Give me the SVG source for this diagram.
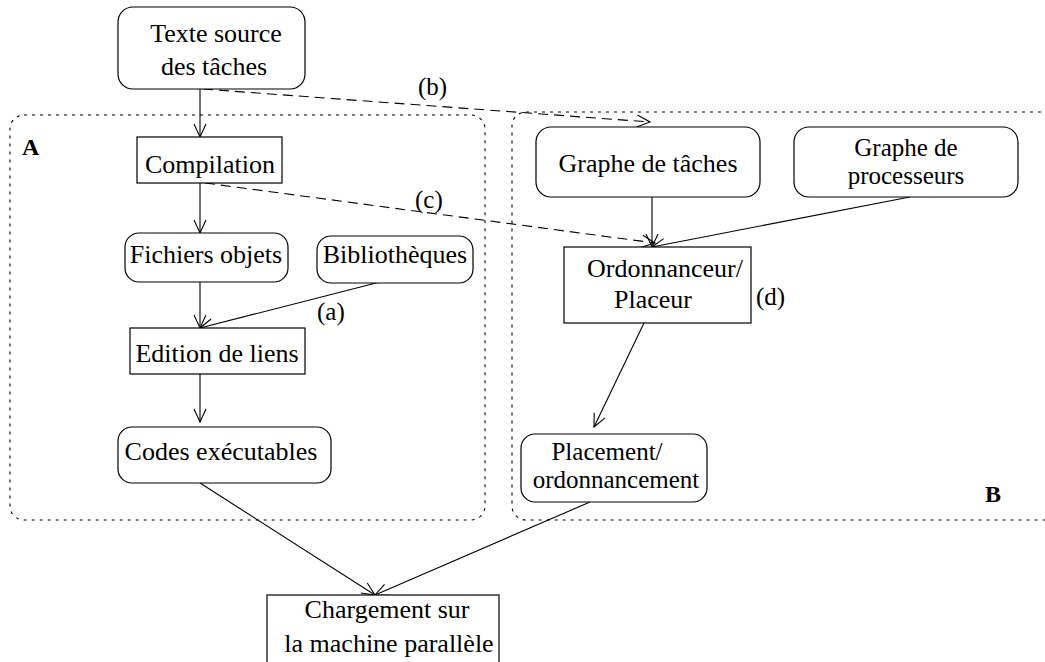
<svg xmlns="http://www.w3.org/2000/svg" width="1045" height="662" viewBox="0 0 1045 662">
<defs>
<style>
.n{fill:#fff;stroke:#000;stroke-width:1.2}
.t{font-size:26px;fill:#000;text-anchor:middle}
.s{font-size:25px}
.l{font-size:25px;fill:#000}
.b{font-size:24px;font-weight:bold;fill:#000}
.e{fill:none;stroke:#000;stroke-width:1.1}
.d{stroke-dasharray:10 6}
.box{fill:none;stroke:#000;stroke-width:1.1;stroke-dasharray:3 5}
</style>
<marker id="ah" markerUnits="userSpaceOnUse" markerWidth="16" markerHeight="14" refX="13" refY="6" orient="auto" overflow="visible">
<path d="M0,0 L13,6 L0,12" fill="none" stroke="#000" stroke-width="1.1"/>
</marker>
</defs>
<rect width="1045" height="662" fill="#fff"/>
<g font-family="Liberation Serif, DejaVu Serif, serif">
<g id="groupA">
<rect class="box" x="10" y="115" width="475" height="405" rx="14"/>
<text class="b" x="22" y="155">A</text>
</g>
<g id="groupB">
<rect class="box" x="512" y="112" width="560" height="408" rx="14"/>
<text class="b" x="985" y="502">B</text>
</g>
<g id="connectors">
<path class="e" d="M200,89 L200,137" marker-end="url(#ah)"/>
<path class="e d" d="M203,89 L650,122" marker-end="url(#ah)"/>
<path class="e d" d="M205,183 L655,243" marker-end="url(#ah)"/>
<path class="e" d="M200,183 L200,233" marker-end="url(#ah)"/>
<path class="e" d="M200,282 L200,328" marker-end="url(#ah)"/>
<path class="e" d="M380,282 L200,328" marker-end="url(#ah)"/>
<path class="e" d="M200,374 L200,422" marker-end="url(#ah)"/>
<path class="e" d="M652,197 L652,247" marker-end="url(#ah)"/>
<path class="e" d="M910,197 L652,247" marker-end="url(#ah)"/>
<path class="e" d="M644,323 L594,427" marker-end="url(#ah)"/>
<path class="e" d="M200,483 L375,595" marker-end="url(#ah)"/>
<path class="e" d="M590,502 L375,595" marker-end="url(#ah)"/>
<text class="l" x="418" y="95">(b)</text>
<text class="l" x="415" y="208">(c)</text>
<text class="l" x="317" y="320">(a)</text>
<text class="l" x="756" y="305">(d)</text>
</g>
<g id="texte">
<rect class="n" x="118" y="7" width="187" height="82" rx="15"/>
<text class="t" x="216" y="42">Texte source</text>
<text class="t" x="214" y="75">des tâches</text>
</g>
<g id="compilation">
<rect class="n" x="137" y="137" width="145" height="46"/>
<text class="t" x="210" y="173">Compilation</text>
</g>
<g id="fichiers">
<rect class="n" x="125" y="233" width="163" height="49" rx="14"/>
<text class="t" x="206" y="263">Fichiers objets</text>
</g>
<g id="biblio">
<rect class="n" x="317" y="236" width="156" height="47" rx="14"/>
<text class="t" x="395" y="263">Bibliothèques</text>
</g>
<g id="edition">
<rect class="n" x="130" y="328" width="175" height="46"/>
<text class="t" x="217" y="362">Edition de liens</text>
</g>
<g id="codes">
<rect class="n" x="118" y="427" width="213" height="56" rx="14"/>
<text class="t" x="221" y="460">Codes exécutables</text>
</g>
<g id="graphetaches">
<rect class="n" x="536" y="127" width="224" height="70" rx="15"/>
<text class="t" x="648" y="172">Graphe de tâches</text>
</g>
<g id="grapheproc">
<rect class="n" x="794" y="127" width="224" height="70" rx="15"/>
<text class="t s" x="906" y="156">Graphe de</text>
<text class="t s" x="906" y="184">processeurs</text>
</g>
<g id="ordonnanceur">
<rect class="n" x="564" y="247" width="187" height="76"/>
<text class="t" x="665" y="277">Ordonnanceur/</text>
<text class="t" x="653" y="308">Placeur</text>
</g>
<g id="placement">
<rect class="n" x="521" y="434" width="186" height="68" rx="14"/>
<text class="t s" x="607" y="460">Placement/</text>
<text class="t s" x="616" y="488">ordonnancement</text>
</g>
<g id="chargement">
<rect class="n" x="267" y="595" width="232" height="80"/>
<text class="t" x="387" y="618">Chargement sur</text>
<text class="t" x="389" y="652">la machine parallèle</text>
</g>
</g>
</svg>
